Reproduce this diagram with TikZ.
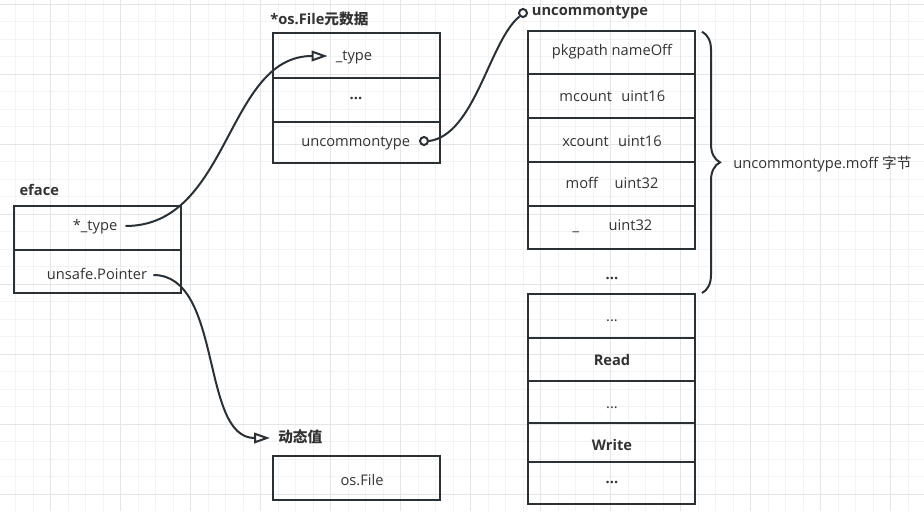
\documentclass[tikz,border=0pt]{standalone}
\usepackage{fontspec}
\setmainfont{Open Sans}
\newfontfamily\cjk{Noto Sans CJK SC}
\usetikzlibrary{arrows.meta, decorations.pathreplacing}

\definecolor{linecol}{RGB}{43,48,53}
\definecolor{textcol}{RGB}{51,51,51}
\definecolor{gridminor}{RGB}{243,243,243}
\definecolor{gridmajor}{RGB}{229,229,229}

\tikzset{
  box/.style={draw=linecol, line width=1.5pt},
  txt/.style={text=textcol, font=\fontsize{11pt}{13pt}\selectfont, text height=8pt, text depth=2pt, inner sep=0pt},
  boldtxt/.style={txt, font=\fontsize{11pt}{13pt}\selectfont\bfseries},
  head/.style={boldtxt, anchor=west},
  link/.style={draw=linecol, line width=1.5pt},
  hollow/.style={-{Triangle[open, length=12pt, width=8pt]}},
  port/.style={circle, draw=linecol, line width=1.5pt, fill=white, minimum size=6pt, inner sep=0pt},
}

\begin{document}
\begin{tikzpicture}[x=0.75pt, y=-0.75pt]

  \useasboundingbox (0,0) rectangle (924,511);

  % background grid
  \foreach \i in {0,...,51} \draw[gridminor, line width=0.75pt] ({15.7+17.5*\i},0) -- ++(0,511);
  \foreach \j in {0,...,28} \draw[gridminor, line width=0.75pt] (0,{4+17.5*\j}) -- ++(924,0);
  \foreach \i in {0,...,12} \draw[gridmajor, line width=0.75pt] ({50.7+70*\i},0) -- ++(0,511);
  \foreach \j in {0,...,7} \draw[gridmajor, line width=0.75pt] (0,{4+70*\j}) -- ++(924,0);

  % eface
  \draw[box] (14,206) rectangle (181,293);
  \draw[box] (14,250) -- (181,250);
  \node[head] (eface) at (19.3,191) {eface};
  \node[txt, inner xsep=6pt] (etype) at (95,226) {*\_type};
  \node[txt, inner xsep=4.5pt] (eptr) at (97,275) {unsafe.Pointer};

  % *os.File metadata
  \draw[box] (273.3,33.3) rectangle (440,162.7);
  \draw[box] (273.3,77.7) -- (440,77.7);
  \draw[box] (273.3,121.7) -- (440,121.7);
  \node[head] (meta) at (270,20) {*os.File{\cjk 元数据}};
  \node[txt, inner xsep=6pt] (mtype) at (354,56) {\_type};
  \node[boldtxt] (mdots) at (356,95.5) {...};
  \node[txt] (muncommon) at (355.7,142) {uncommontype};
  \node[port] (pa) at (424,141) {};

  % uncommontype
  \draw[box] (527.7,31) rectangle (695,249.3);
  \foreach \y in {74.3,118.3,162.3,206} \draw[box] (527.7,\y) -- (695,\y);
  \node[head] (uhead) at (531.7,11) {uncommontype};
  \node[port] (pb) at (523,13) {};
  \node[txt] (pkgpath) at (612,51) {pkgpath nameOff};
  \node[txt] (mcount) at (612.3,97.7) {mcount\hspace{7pt}uint16};
  \node[txt] (xcount) at (612,142.7) {xcount\hspace{7pt}uint16};
  \node[txt] (moff) at (612,184.3) {moff\hspace{12.5pt}uint32};
  \node[txt] (unused) at (612.5,226) {\_\hspace{22pt}uint32};
  \node[boldtxt] (udots) at (612,275) {...};

  \draw[link, decorate, decoration={brace, amplitude=13.5pt}] (702,31.7) -- (702,293);
  \node[txt, anchor=west] (moffnote) at (733,164) {uncommontype.moff {\cjk 字节}};

  % methods
  \draw[box] (527.7,294) rectangle (695,504.3);
  \foreach \y in {337.7,381,423.3,461.7} \draw[box] (527.7,\y) -- (695,\y);
  \node[txt] (fdots1) at (612,317) {...};
  \node[boldtxt] (fread) at (612,361) {Read};
  \node[txt] (fdots2) at (612,404) {...};
  \node[boldtxt] (fwrite) at (612,446) {Write};
  \node[boldtxt] (fdots3) at (612,479.5) {...};

  % dynamic value
  \node[head, inner xsep=6pt] (dyn) at (270,438) {{\cjk 动态值}};
  \draw[box] (273.3,456) rectangle (440,500);
  \node[txt] (osfile) at (362,481) {os.File};

  % pointers
  \draw[link, hollow] (etype.east) .. controls +(105,0) and +(-102,0) .. (mtype.west);
  \draw[link] (pa.east) .. controls +(46,-6) and +(-30,24) .. (pb.south west);
  \draw[link, hollow] (eptr.east) .. controls +(70,0) and +(-70,0) .. (dyn.west);

\end{tikzpicture}
\end{document}
